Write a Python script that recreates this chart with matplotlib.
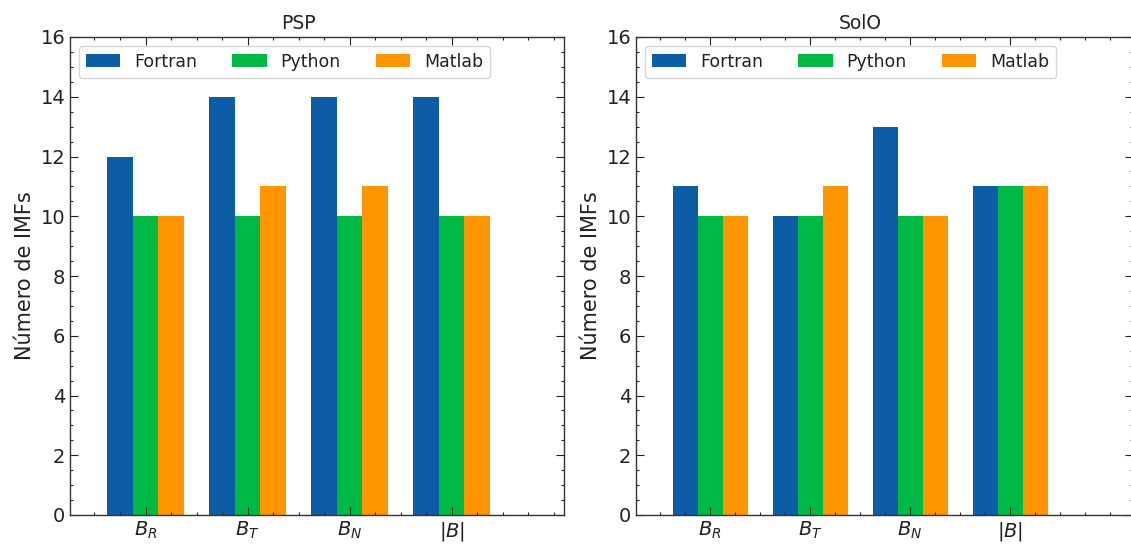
import numpy as np
import matplotlib.pyplot as plt
from matplotlib.ticker import MultipleLocator

components = ['$B_R$', '$B_T$', '$B_N$', '$|B|$']
codes = ['Fortran', 'Python', 'Matlab']
colors = ['#0C5DA5', '#00B945', '#FF9500']

# number of IMFs per component for each implementation
psp_fortran = [12, 14, 14, 14]
psp_python = [10, 10, 10, 10]
psp_matlab = [10, 11, 11, 10]

solo_fortran = [11, 10, 13, 11]
solo_python = [10, 10, 10, 11]
solo_matlab = [10, 11, 10, 11]

plt.rcParams['font.family'] = 'DejaVu Sans'
plt.rcParams['text.color'] = '#222222'
plt.rcParams['axes.labelcolor'] = '#222222'
plt.rcParams['xtick.color'] = '#222222'
plt.rcParams['ytick.color'] = '#222222'

fig = plt.figure(figsize=(11.31, 5.44), dpi=100)
ax1 = fig.add_axes([70 / 1131, 29 / 544, 494 / 1131, 478 / 544])
ax2 = fig.add_axes([636 / 1131, 29 / 544, 497 / 1131, 478 / 544])

x = np.arange(len(components))
w = 0.25

panels = [
    (ax1, 'PSP', [psp_fortran, psp_python, psp_matlab], (-0.74, 4.1), 0.462),
    (ax2, 'SolO', [solo_fortran, solo_python, solo_matlab], (-0.74, 4.23), 0.451),
]

for ax, title, series, xlim, tx in panels:
    for i, (vals, name) in enumerate(zip(series, codes)):
        ax.bar(x + (i - 1) * w, vals, w, color=colors[i], label=name)
    ax.set_title(title, fontsize=13.5, x=tx)
    ax.set_ylabel('Número de IMFs', fontsize=15)
    ax.set_ylim(0, 16)
    ax.set_xlim(*xlim)
    ax.set_xticks(x)
    ax.set_xticklabels(components)
    ax.yaxis.set_major_locator(MultipleLocator(2))
    ax.yaxis.set_minor_locator(MultipleLocator(0.5))
    ax.xaxis.set_minor_locator(MultipleLocator(0.25))
    ax.tick_params(which='both', direction='in', top=True, right=True,
                   width=0.8, labelsize=14)
    ax.tick_params(which='major', length=6)
    ax.tick_params(which='minor', length=2.5)
    for s in ax.spines.values():
        s.set_color('#333333')
        s.set_linewidth(1.0)
    ax.legend(loc='upper left', ncol=3, fontsize=12.5, framealpha=0.8,
              edgecolor='#cccccc')

fig.savefig('out.png', dpi=100)
